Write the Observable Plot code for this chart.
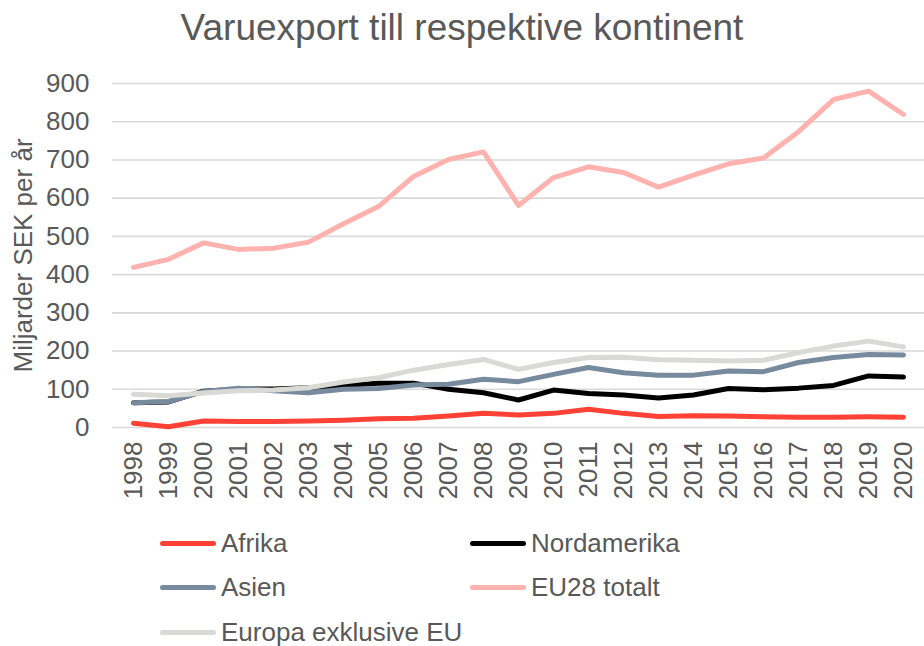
<!DOCTYPE html>
<html>
<head>
<meta charset="utf-8">
<script src="https://cdn.jsdelivr.net/npm/d3@7"></script>
<script src="https://cdn.jsdelivr.net/npm/@observablehq/plot@0.6"></script>
<style>
  body { margin: 0; background: #fff; font-family: "Liberation Sans", Arial, sans-serif; }
  #title { width: 924px; height: 60px; line-height: 56px; text-align: center; font-size: 37px; color: #595959; }
  #legend { display: grid; grid-template-columns: 310px 310px; grid-auto-rows: 44.5px; padding-left: 160px; padding-top: 11px; }
  .item { display: flex; align-items: center; font-size: 26px; color: #595959; }
  .swatch { width: 56px; height: 5px; border-radius: 3px; margin-right: 5px; }
</style>
</head>
<body>
<div id="title">Varuexport till respektive kontinent</div>
<div id="chart"></div>
<div id="legend"></div>
<script>
const years = [1998,1999,2000,2001,2002,2003,2004,2005,2006,2007,2008,2009,2010,2011,2012,2013,2014,2015,2016,2017,2018,2019,2020];
const afrika      = [11, 2, 17, 16, 16, 17, 19, 23, 24, 30, 37, 33, 37, 48, 37, 29, 31, 30, 28, 27, 27, 28, 27];
const nordamerika = [65, 67, 95, 100, 101, 104, 110, 116, 116, 100, 91, 72, 98, 89, 85, 77, 85, 102, 99, 103, 110, 135, 132];
const asien       = [65, 68, 94, 103, 96, 91, 100, 102, 111, 113, 126, 120, 139, 157, 143, 137, 137, 148, 146, 170, 183, 191, 190];
const eu28        = [419, 440, 483, 466, 469, 485, 533, 578, 657, 701, 721, 581, 654, 682, 667, 629, 660, 690, 705, 774, 858, 880, 819];
const europa      = [87, 83, 90, 96, 98, 104, 119, 130, 150, 165, 178, 152, 170, 183, 184, 177, 176, 174, 176, 196, 213, 226, 211];
const seriesNames = ["Afrika", "Nordamerika", "Asien", "EU28 totalt", "Europa exklusive EU"];
const seriesColors = ["#ff4136", "#000000", "#778a9e", "#ffb2ae", "#d9d9d5"];
const yTicks = [0,100,200,300,400,500,600,700,800,900];

const allSeries = [afrika, nordamerika, asien, eu28, europa];
const data = [];
allSeries.forEach((vals, i) => vals.forEach((v, j) => data.push({year: String(years[j]), value: v, series: seriesNames[i]})));

const chart = Plot.plot({
  width: 924,
  height: 450,
  marginTop: 23,
  marginBottom: 83,
  marginLeft: 112,
  marginRight: 0,
  style: {fontFamily: "'Liberation Sans', Arial, sans-serif", fontSize: "26px", color: "#595959"},
  x: {type: "point", domain: years.map(String), padding: 0.5, label: null},
  y: {domain: [0, 900], label: null},
  color: {domain: seriesNames, range: seriesColors},
  marks: [
    Plot.ruleY(yTicks, {stroke: "#d9d9d9", strokeWidth: 1.6}),
    Plot.axisY({ticks: yTicks, tickSize: 0, tickPadding: 23, fontSize: 26, label: "Miljarder SEK per år", labelAnchor: "center", labelArrow: "none", labelOffset: 99}),
    Plot.axisX({tickSize: 0, tickPadding: 14, tickRotate: -90, fontSize: 26, label: null}),
    Plot.line(data, {x: "year", y: "value", z: "series", stroke: "series", strokeWidth: 5, strokeLinejoin: "round", strokeLinecap: "round"})
  ]
});
document.getElementById("chart").appendChild(chart);

const legend = document.getElementById("legend");
seriesNames.forEach((name, i) => {
  const item = document.createElement("div");
  item.className = "item";
  const sw = document.createElement("div");
  sw.className = "swatch";
  sw.style.background = seriesColors[i];
  item.appendChild(sw);
  item.appendChild(document.createTextNode(name));
  legend.appendChild(item);
});
</script>
</body>
</html>
